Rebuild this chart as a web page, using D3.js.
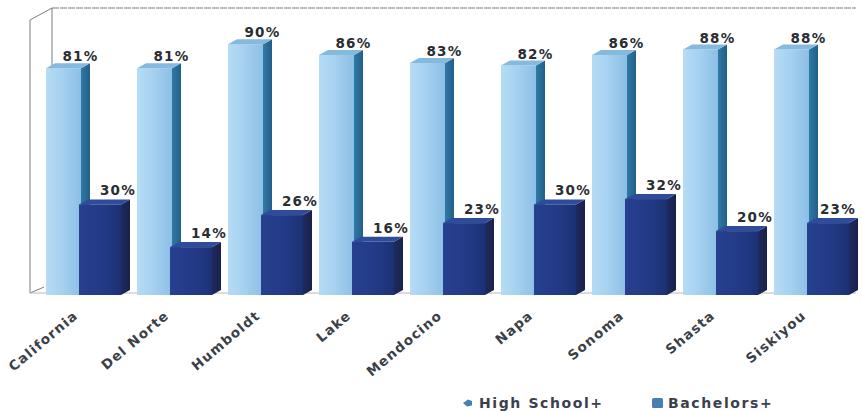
<!DOCTYPE html>
<html>
<head>
<meta charset="utf-8">
<script src="https://cdn.jsdelivr.net/npm/d3@7/dist/d3.min.js"></script>
<style>
  html, body { margin: 0; padding: 0; background: #fff; }
  svg { display: block; }
</style>
</head>
<body>
<svg id="chart" width="862" height="411"></svg>
<script>
// Educational attainment by county (percent of adults)
const counties = ["California", "Del Norte", "Humboldt", "Lake", "Mendocino", "Napa", "Sonoma", "Shasta", "Siskiyou"];
const highSchool = [81, 81, 90, 86, 83, 82, 86, 88, 88];
const bachelors = [30, 14, 26, 16, 23, 30, 32, 20, 23];
const seriesNames = ["High School+", "Bachelors+"];

const svg = d3.select("#chart");
const W = 862;

// 3D extrusion of each column (right side / top)
const depthX = 9, depthY = 5;
const floorY = 295;

const x = d3.scaleBand().domain(counties).range([37, 856]).padding(0);
const y = d3.scaleLinear().domain([0, 100]).range([284.5, 17.5]);

const defs = svg.append("defs");
function hGrad(id, stops) {
  const g = defs.append("linearGradient").attr("id", id)
    .attr("x1", "0%").attr("x2", "100%").attr("y1", "0%").attr("y2", "0%");
  stops.forEach(([o, c]) => g.append("stop").attr("offset", o).attr("stop-color", c));
}
hGrad("hsFront", [["0%", "#b6dcf5"], ["45%", "#a6d1f0"], ["100%", "#8cbfe6"]]);
hGrad("hsSide", [["0%", "#2f7aa6"], ["100%", "#235f88"]]);
hGrad("baFront", [["0%", "#27408f"], ["60%", "#223a86"], ["100%", "#1c3174"]]);
hGrad("baSide", [["0%", "#1e2a5e"], ["100%", "#19224c"]]);

// Chart walls (thin grey frame)
const wall = svg.append("g").attr("fill", "none").attr("stroke", "#7d7d7d").attr("stroke-width", 1);
const backLeft = 52, backTop = 8, frontLeft = 30, frontTop = 20;
wall.append("path").attr("d", `M${backLeft},${backTop}H856`).attr("stroke-dasharray", "7,1");
wall.append("path").attr("d", `M${backLeft},${backTop}V${y(0)}`);
wall.append("path").attr("d", `M${frontLeft},${frontTop}L${backLeft},${backTop}`);
wall.append("path").attr("d", `M${frontLeft},${frontTop}V${floorY - 2}L${frontLeft + 14},${floorY - 8}`);
wall.append("path").attr("d", `M${frontLeft},${floorY - 2}L856,${floorY - 2}`).attr("stroke", "#b8b8b8");

// Draws one extruded column: front face, right side, top
function column(g, x0, w, v, front, side, top) {
  const yt = y(v);
  g.append("path")
    .attr("d", `M${x0 + w},${yt}L${x0 + w + depthX},${yt - depthY}L${x0 + w + depthX},${floorY - depthY}L${x0 + w},${floorY}Z`)
    .attr("fill", side);
  g.append("rect").attr("x", x0).attr("y", yt).attr("width", w).attr("height", floorY - yt).attr("fill", front);
  g.append("path")
    .attr("d", `M${x0},${yt}L${x0 + depthX},${yt - depthY}L${x0 + w + depthX},${yt - depthY}L${x0 + w},${yt}Z`)
    .attr("fill", top);
}

const bars = svg.append("g");
counties.forEach((c, i) => {
  const g = bars.append("g");
  const x0 = x(c);
  column(g, x0 + 9, 35, highSchool[i], "url(#hsFront)", "url(#hsSide)", "#86b9de");
  column(g, x0 + 42, 42, bachelors[i], "url(#baFront)", "url(#baSide)", "#2f4c9c");
});

// Value labels (kept inside the right edge)
const labelFont = "'DejaVu Sans', Verdana, sans-serif";
const labels = svg.append("g")
  .attr("font-family", labelFont).attr("font-weight", "bold").attr("font-size", 13.5)
  .attr("fill", "#2a2d33").attr("text-anchor", "middle").attr("letter-spacing", 1.2);
counties.forEach((c, i) => {
  const x0 = x(c);
  labels.append("text").attr("x", x0 + 9 + 35 / 2 + 17).attr("y", y(highSchool[i]) - 7).text(highSchool[i] + "%");
  labels.append("text").attr("x", Math.min(x0 + 42 + 21 + 18, W - 24)).attr("y", y(bachelors[i]) - 9).text(bachelors[i] + "%");
});

// Category axis labels, slanted
const cats = svg.append("g")
  .attr("font-family", labelFont).attr("font-weight", "bold").attr("font-size", 13.5)
  .attr("fill", "#3b3f47").attr("text-anchor", "end").attr("letter-spacing", 1.2);
counties.forEach(c => {
  const ax = x(c) + 42, ay = 317;
  cats.append("text").attr("transform", `translate(${ax},${ay}) rotate(-40)`).text(c);
});

// Legend
const legend = svg.append("g")
  .attr("font-family", labelFont).attr("font-weight", "bold").attr("font-size", 14)
  .attr("fill", "#3b414c").attr("letter-spacing", 1.6);
const legendItems = [{ x: 463, shape: "blob" }, { x: 652, shape: "square" }];
legendItems.forEach((d, i) => {
  const g = legend.append("g").attr("transform", `translate(${d.x},403)`);
  if (d.shape === "square") {
    g.append("rect").attr("x", 0).attr("y", -5).attr("width", 11).attr("height", 10).attr("rx", 1.5).attr("fill", "#4a7db2");
  } else {
    g.append("path").attr("d", "M0,0L5,-3.5L9,-2L9,2.5L4,3.5Z").attr("fill", "#4a80b6");
  }
  g.append("text").attr("x", 16).attr("y", 5).text(seriesNames[i]);
});
</script>
</body>
</html>
